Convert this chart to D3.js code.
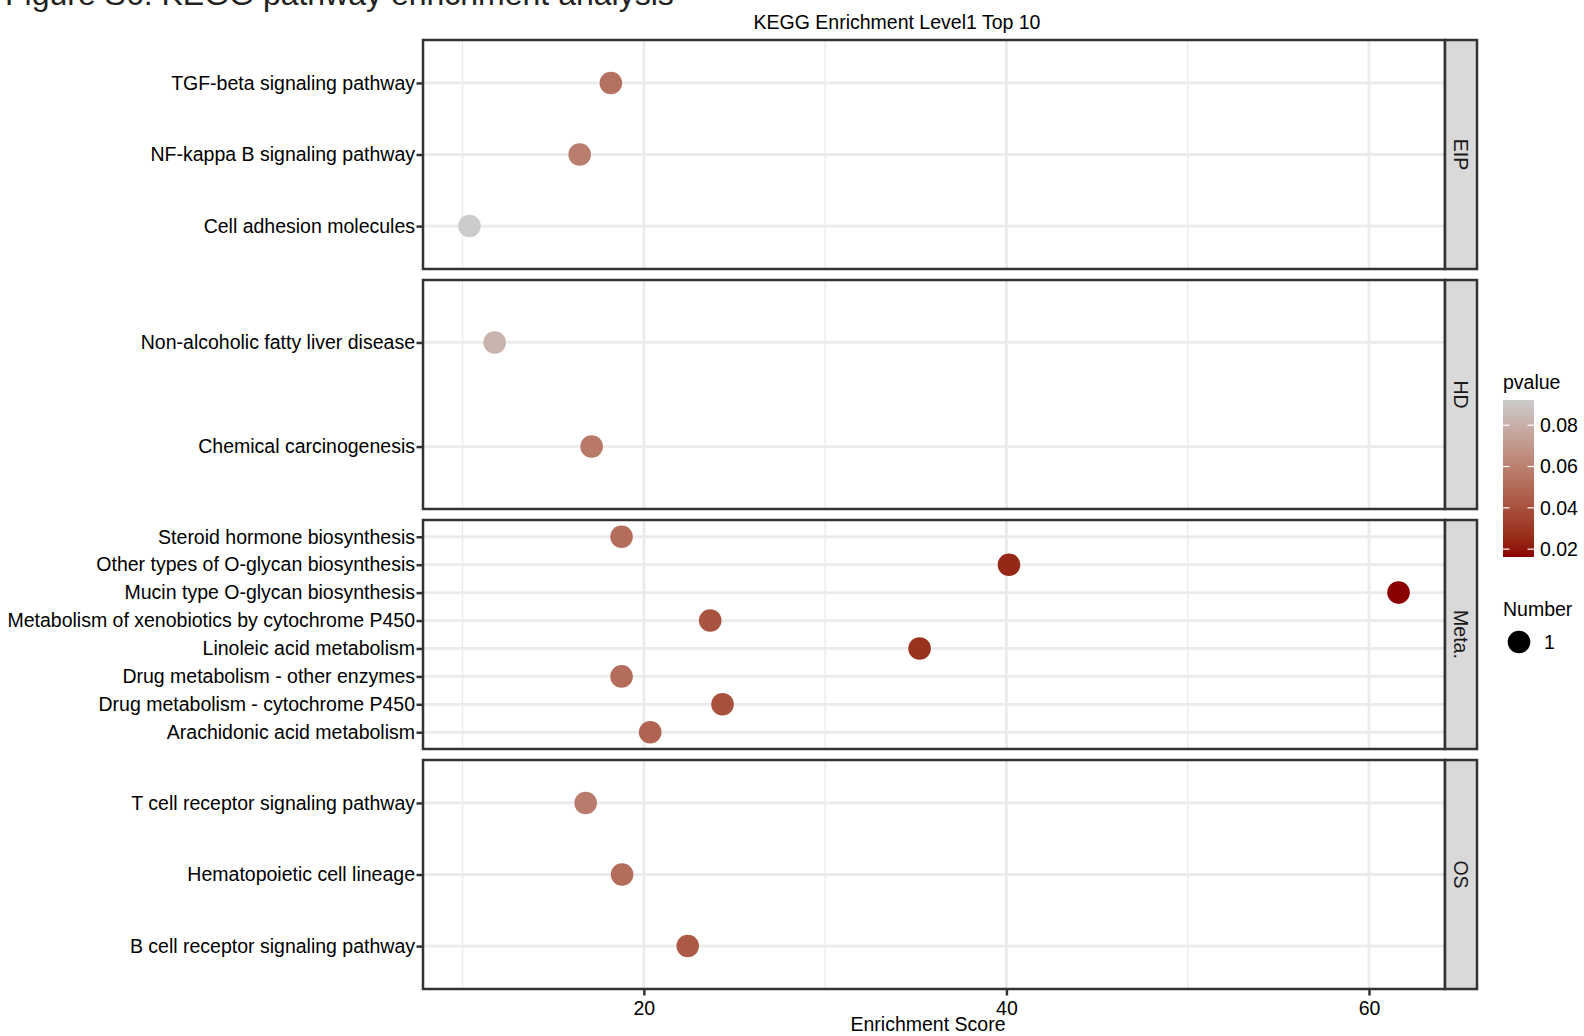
<!DOCTYPE html>
<html>
<head>
<meta charset="utf-8">
<script src="https://cdn.jsdelivr.net/npm/d3@7"></script>
<style>
  body { margin: 0; background: #fff; }
  svg { font-family: "Liberation Sans", Arial, sans-serif; }
</style>
</head>
<body>
<script>
// facets, top to bottom
var facets = ["EIP", "HD", "Meta.", "OS"];

// pathways in each facet, listed top to bottom as in the picture
var pathways = [
  "TGF-beta signaling pathway", "NF-kappa B signaling pathway", "Cell adhesion molecules",
  "Non-alcoholic fatty liver disease", "Chemical carcinogenesis",
  "Steroid hormone biosynthesis", "Other types of O-glycan biosynthesis", "Mucin type O-glycan biosynthesis",
  "Metabolism of xenobiotics by cytochrome P450", "Linoleic acid metabolism", "Drug metabolism - other enzymes",
  "Drug metabolism - cytochrome P450", "Arachidonic acid metabolism",
  "T cell receptor signaling pathway", "Hematopoietic cell lineage", "B cell receptor signaling pathway"
];
var facetOf = [
  "EIP", "EIP", "EIP",
  "HD", "HD",
  "Meta.", "Meta.", "Meta.", "Meta.", "Meta.", "Meta.", "Meta.", "Meta.",
  "OS", "OS", "OS"
];
var scores = [18.18, 16.46, 10.38, 11.77, 17.12, 18.77, 40.14, 61.63, 23.66, 35.21, 18.77, 24.34, 20.35, 16.79, 18.8, 22.42];
var pvalues = [0.0535, 0.059, 0.0922, 0.0815, 0.0567, 0.0519, 0.0246, 0.0162, 0.0414, 0.028, 0.0519, 0.0403, 0.048, 0.0578, 0.0518, 0.0436];
var counts = [1, 1, 1, 1, 1, 1, 1, 1, 1, 1, 1, 1, 1, 1, 1, 1];

var xTicks = [20, 40, 60];
var xMinor = [10, 30, 50];
var pTicks = [0.02, 0.04, 0.06, 0.08];

var W = 1584, H = 1036;
var plotLeft = 423, plotRight = 1445, stripW = 32;
var plotTop = 40, plotBottom = 989;
var fontSize = 19.5;
var dotR = 11.3;

var svg = d3.select("body").append("svg")
  .attr("width", W)
  .attr("height", H);

// figure caption, cut off at the top edge
svg.append("text")
  .attr("x", 5).attr("y", 5)
  .style("font-size", "32px")
  .attr("fill", "#222")
  .text("Figure S6: KEGG pathway enrichment analysis");

svg.append("text")
  .attr("x", 897).attr("y", 29)
  .attr("text-anchor", "middle")
  .style("font-size", fontSize + "px")
  .text("KEGG Enrichment Level1 Top 10");

var ext = d3.extent(scores);
var pad = (ext[1] - ext[0]) * 0.05;
var x = d3.scaleLinear().domain([ext[0] - pad, ext[1] + pad]).range([plotLeft, plotRight]);

var fy = d3.scaleBand().domain(facets).range([plotTop, plotBottom]).paddingInner(11 / 240);

var color = d3.scaleLinear()
  .domain(d3.extent(pvalues))
  .range(["#8B0000", "#CCCCCC"])
  .interpolate(d3.interpolateLab);

facets.forEach(function(f) {
  var y0 = fy(f), h = fy.bandwidth();
  var idx = [];
  for (var i = 0; i < pathways.length; i++) {
    if (facetOf[i] === f) idx.push(i);
  }
  var y = d3.scalePoint()
    .domain(idx.map(function(i) { return pathways[i]; }))
    .range([y0, y0 + h])
    .padding(0.6);

  var g = svg.append("g");

  // grid
  g.selectAll(".minor").data(xMinor).enter().append("line")
    .attr("x1", function(d) { return x(d); }).attr("x2", function(d) { return x(d); })
    .attr("y1", y0).attr("y2", y0 + h)
    .attr("stroke", "#EBEBEB").attr("stroke-width", 1.4);
  g.selectAll(".major").data(xTicks).enter().append("line")
    .attr("x1", function(d) { return x(d); }).attr("x2", function(d) { return x(d); })
    .attr("y1", y0).attr("y2", y0 + h)
    .attr("stroke", "#EBEBEB").attr("stroke-width", 2.8);
  g.selectAll(".hgrid").data(y.domain()).enter().append("line")
    .attr("x1", plotLeft).attr("x2", plotRight)
    .attr("y1", function(d) { return y(d); }).attr("y2", function(d) { return y(d); })
    .attr("stroke", "#EBEBEB").attr("stroke-width", 2.8);

  // points
  g.selectAll("circle").data(idx).enter().append("circle")
    .attr("cx", function(i) { return x(scores[i]); })
    .attr("cy", function(i) { return y(pathways[i]); })
    .attr("r", dotR)
    .attr("fill", function(i) { return color(pvalues[i]); });

  // panel border
  g.append("rect")
    .attr("x", plotLeft).attr("y", y0).attr("width", plotRight - plotLeft).attr("height", h)
    .attr("fill", "none").attr("stroke", "#333").attr("stroke-width", 2.5);

  // strip
  g.append("rect")
    .attr("x", plotRight).attr("y", y0).attr("width", stripW).attr("height", h)
    .attr("fill", "#D9D9D9").attr("stroke", "#333").attr("stroke-width", 2.5);
  g.append("text")
    .attr("transform", "translate(" + (plotRight + stripW / 2) + "," + (y0 + h / 2) + ") rotate(90)")
    .attr("text-anchor", "middle")
    .attr("dy", "0.35em")
    .attr("fill", "#1A1A1A")
    .style("font-size", fontSize + "px")
    .text(f);

  // y axis
  var ay = g.append("g")
    .attr("transform", "translate(" + (plotLeft - 1) + ",0)")
    .call(d3.axisLeft(y).tickSize(5.5).tickPadding(1.5));
  ay.select(".domain").remove();
  ay.selectAll(".tick line").attr("stroke", "#333").attr("stroke-width", 2.5);
  ay.selectAll(".tick text")
    .attr("fill", "#000")
    .style("font-size", fontSize + "px")
    .style("font-family", "'Liberation Sans', Arial, sans-serif");
});

// x axis
var ax = svg.append("g")
  .attr("transform", "translate(0," + (plotBottom + 1) + ")")
  .call(d3.axisBottom(x).tickValues(xTicks).tickSize(5.5).tickPadding(6));
ax.select(".domain").remove();
ax.selectAll(".tick line").attr("stroke", "#333").attr("stroke-width", 2.5);
ax.selectAll(".tick text")
  .attr("fill", "#000")
  .style("font-size", fontSize + "px")
  .style("font-family", "'Liberation Sans', Arial, sans-serif");

svg.append("text")
  .attr("x", 928).attr("y", 1031)
  .attr("text-anchor", "middle")
  .style("font-size", fontSize + "px")
  .text("Enrichment Score");

// colour legend
var lg = svg.append("g");
var barX = 1503, barW = 31, barTop = 400, barBot = 557;
lg.append("text")
  .attr("x", barX).attr("y", 389)
  .style("font-size", fontSize + "px")
  .text("pvalue");

var grad = svg.append("defs").append("linearGradient")
  .attr("id", "pgrad")
  .attr("x1", 0).attr("y1", 1).attr("x2", 0).attr("y2", 0);
d3.range(0, 1.0001, 0.05).forEach(function(t) {
  var pd = color.domain();
  grad.append("stop")
    .attr("offset", t)
    .attr("stop-color", color(pd[0] + t * (pd[1] - pd[0])));
});
lg.append("rect")
  .attr("x", barX).attr("y", barTop).attr("width", barW).attr("height", barBot - barTop)
  .attr("fill", "url(#pgrad)");

var py = d3.scaleLinear().domain(color.domain()).range([barBot, barTop]);
pTicks.forEach(function(p) {
  lg.append("line")
    .attr("x1", barX).attr("x2", barX + 6.5)
    .attr("y1", py(p)).attr("y2", py(p))
    .attr("stroke", "#fff").attr("stroke-width", 1.2);
  lg.append("line")
    .attr("x1", barX + barW - 6.5).attr("x2", barX + barW)
    .attr("y1", py(p)).attr("y2", py(p))
    .attr("stroke", "#fff").attr("stroke-width", 1.2);
  lg.append("text")
    .attr("x", barX + barW + 6).attr("y", py(p))
    .attr("dy", "0.35em")
    .style("font-size", fontSize + "px")
    .text(p.toFixed(2));
});

// size legend
lg.append("text")
  .attr("x", 1503).attr("y", 616)
  .style("font-size", fontSize + "px")
  .text("Number");
lg.append("circle")
  .attr("cx", 1519).attr("cy", 642)
  .attr("r", dotR)
  .attr("fill", "#000");
lg.append("text")
  .attr("x", 1544).attr("y", 642)
  .attr("dy", "0.35em")
  .style("font-size", fontSize + "px")
  .text(d3.max(counts));
</script>
</body>
</html>
